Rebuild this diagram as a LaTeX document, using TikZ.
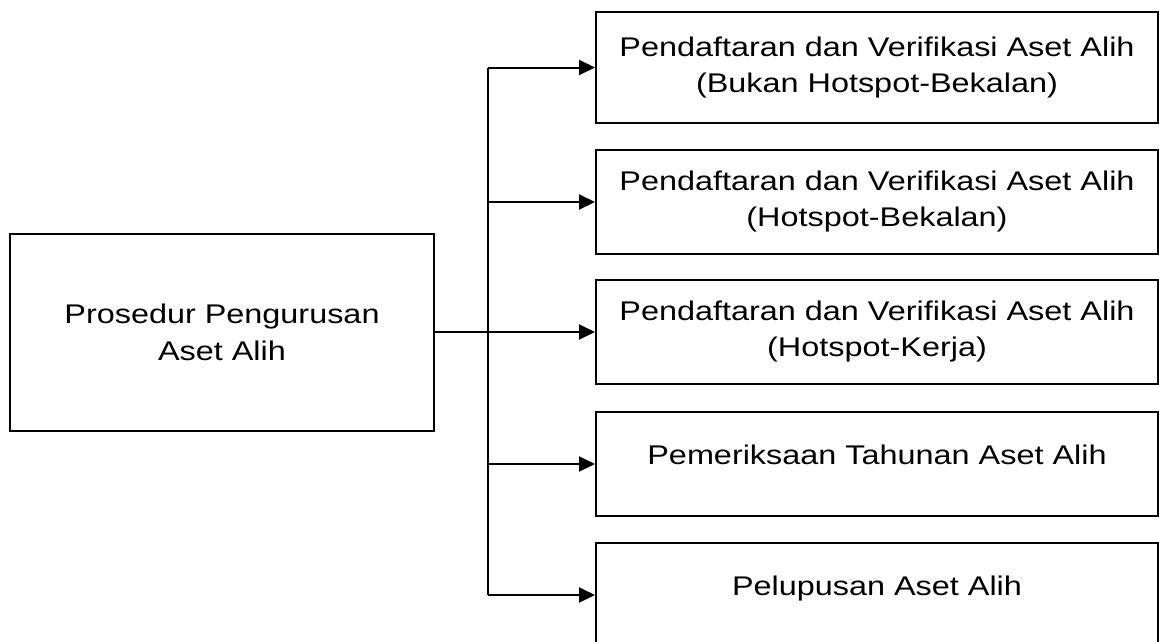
\documentclass[tikz,border=0pt]{standalone}
\usepackage{fontspec}
\setmainfont{Liberation Sans}[FakeStretch=1.2]
\usetikzlibrary{arrows.meta}

\begin{document}
\begin{tikzpicture}[x=1pt, y=-1pt]
    \tikzstyle{box} = [rectangle, draw, line width=2pt, minimum width=562pt, minimum height=104pt, align=center, inner sep=2pt, font=\fontsize{27}{36}\selectfont]
    \tikzstyle{main} = [rectangle, draw, line width=2pt, minimum width=424pt, minimum height=197pt, align=center, font=\fontsize{27}{37}\selectfont]
    \tikzstyle{line} = [line width=2pt]
    \tikzstyle{arrow} = [line width=2pt, -{Triangle[length=16pt, width=15pt]}]

    \useasboundingbox (0,0) rectangle (1159,641);

    % Main procedure
    \node [main] (src) at (222,332) {Prosedur Pengurusan\\Aset Alih};

    % Sub procedures
    \node [box, minimum height=111pt] (box1) at (877,67.5) {Pendaftaran dan Verifikasi Aset Alih\\(Bukan Hotspot-Bekalan)};
    \node [box, below of=box1, node distance=134.5pt] (box2) {Pendaftaran dan Verifikasi Aset Alih\\(Hotspot-Bekalan)};
    \node [box, below of=box2, node distance=130pt] (box3) {Pendaftaran dan Verifikasi Aset Alih\\(Hotspot-Kerja)};
    \node [box, text depth=18pt, below of=box3, node distance=132pt] (box4) {Pemeriksaan Tahunan Aset Alih};
    \node [box, text depth=18pt, below of=box4, node distance=131pt] (box5) {Pelupusan Aset Alih};

    % Branch line
    \coordinate (bus) at (488,0);
    \draw [line] (bus |- box1.west) -- (bus |- box5.west);

    \draw [arrow] (src) -- (box3);
    \draw [arrow] (bus |- box1.west) -- (box1.west);
    \draw [arrow] (bus |- box2.west) -- (box2.west);
    \draw [arrow] (bus |- box4.west) -- (box4.west);
    \draw [arrow] (bus |- box5.west) -- (box5.west);
\end{tikzpicture}
\end{document}
